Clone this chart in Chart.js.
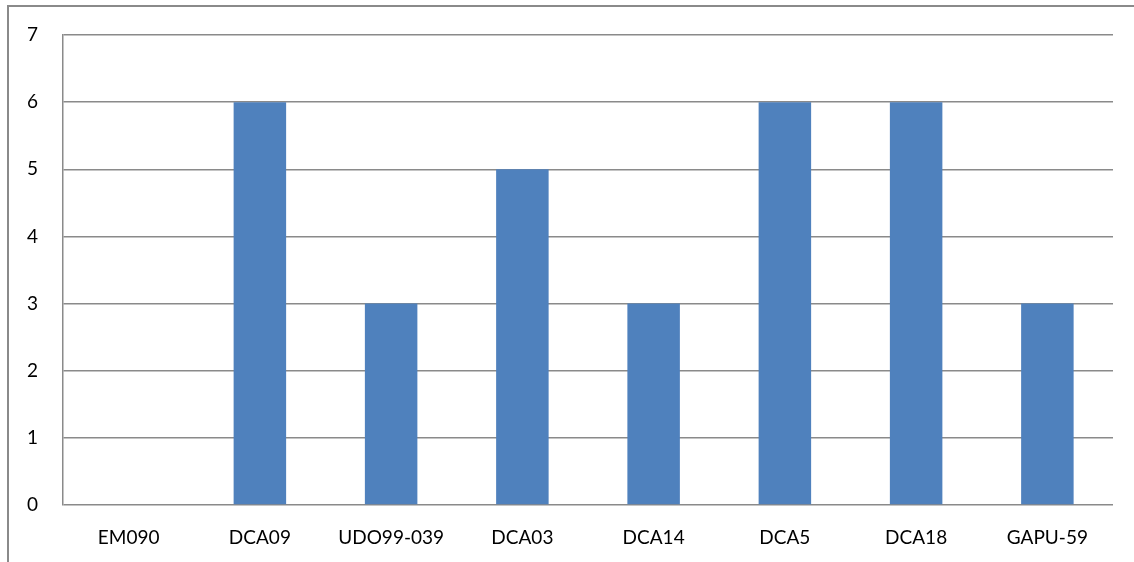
<!DOCTYPE html>
<html>
<head>
<meta charset="utf-8">
<script src="https://cdn.jsdelivr.net/npm/chart.js@4"></script>
<style>
  html, body { margin: 0; padding: 0; background: #fff; }
  #wrap { width: 1134px; height: 562px; position: relative; }
</style>
</head>
<body>
<div id="wrap"><canvas id="c" width="1134" height="562"></canvas></div>
<script>
const categories = ['EM090', 'DCA09', 'UDO99-039', 'DCA03', 'DCA14', 'DCA5', 'DCA18', 'GAPU-59'];
const values = [0, 6, 3, 5, 3, 6, 6, 3];
const yTicks = [0, 1, 2, 3, 4, 5, 6, 7];

const gridColor = '#8a8a8a';
const fontSpec = { family: "Lato, 'Liberation Sans', Arial, sans-serif", size: 19 };

// Outer frame lines (left and top edges of the surrounding box)
const framePlugin = {
  id: 'frame',
  beforeDraw(chart) {
    const ctx = chart.ctx;
    ctx.save();
    ctx.strokeStyle = '#8a8a8a';
    ctx.lineWidth = 2;
    ctx.beginPath();
    ctx.moveTo(8, chart.height);
    ctx.lineTo(8, 6);
    ctx.lineTo(chart.width, 6);
    ctx.stroke();
    ctx.restore();
  }
};

new Chart(document.getElementById('c'), {
  type: 'bar',
  data: {
    labels: categories,
    datasets: [{
      data: values,
      backgroundColor: '#4F81BD',
      borderWidth: 0,
      categoryPercentage: 1,
      barPercentage: 0.4
    }]
  },
  options: {
    responsive: false,
    animation: false,
    layout: { autoPadding: false, padding: { left: 0, right: 21, top: 35, bottom: 0 } },
    plugins: { legend: { display: false }, tooltip: { enabled: false } },
    scales: {
      x: {
        grid: { display: false, drawTicks: false },
        border: { display: false },
        ticks: { color: '#000', font: fontSpec, padding: 21, maxRotation: 0, autoSkip: false },
        afterFit(scale) { scale.height = 57; }
      },
      y: {
        min: 0,
        max: 7,
        afterBuildTicks(scale) { scale.ticks = yTicks.map(v => ({ value: v })); },
        grid: { color: gridColor, lineWidth: 1.5, drawTicks: false },
        border: { display: true, color: gridColor, width: 1.5 },
        ticks: { color: '#000', font: fontSpec, padding: 25 },
        afterFit(scale) { scale.width = 63; scale.paddingTop = 0; scale.paddingBottom = 0; }
      }
    }
  },
  plugins: [framePlugin]
});
</script>
</body>
</html>
